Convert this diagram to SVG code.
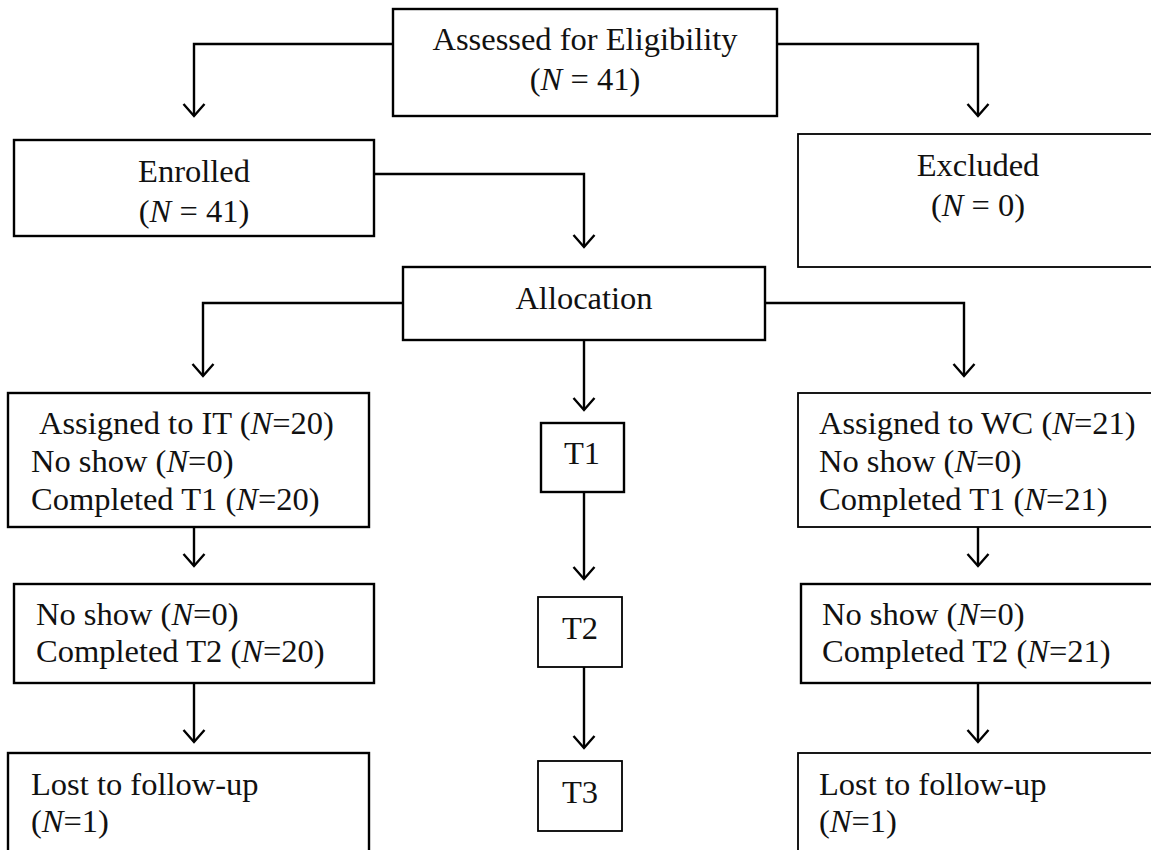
<svg xmlns="http://www.w3.org/2000/svg" width="1151" height="850" viewBox="0 0 1151 850">
<style>
.box{fill:#fff;stroke:#000;stroke-width:2.4}
.thin{fill:#fff;stroke:#000;stroke-width:1.8}
text{font-family:"Liberation Serif","Times New Roman",serif;font-size:32.5px;fill:#111}
.c{text-anchor:middle}
.i{font-style:italic}
.ln{fill:none;stroke:#000;stroke-width:2.4}
</style>
<defs>
<marker id="ah" markerWidth="14" markerHeight="24" refX="12" refY="12" orient="auto" markerUnits="userSpaceOnUse" overflow="visible">
<path d="M0,1.5 L12,12 L0,22.5" fill="none" stroke="#000" stroke-width="2.4"/>
</marker>
</defs>
<rect width="1151" height="850" fill="#fff"/>
<g id="connectors">
<path class="ln" d="M393,44 H194 V116" marker-end="url(#ah)"/>
<path class="ln" d="M777,44 H978 V116" marker-end="url(#ah)"/>
<path class="ln" d="M374,174 H584 V247" marker-end="url(#ah)"/>
<path class="ln" d="M403,303 H203 V376" marker-end="url(#ah)"/>
<path class="ln" d="M765,303 H964 V376" marker-end="url(#ah)"/>
<path class="ln" d="M584,340 V410" marker-end="url(#ah)"/>
<path class="ln" d="M584,492 V579" marker-end="url(#ah)"/>
<path class="ln" d="M584,667 V748" marker-end="url(#ah)"/>
<path class="ln" d="M194,527 V566" marker-end="url(#ah)"/>
<path class="ln" d="M194,683 V742" marker-end="url(#ah)"/>
<path class="ln" d="M978,527 V566" marker-end="url(#ah)"/>
<path class="ln" d="M978,683 V742" marker-end="url(#ah)"/>
</g>
<g id="assessed">
<rect class="box" x="393" y="9" width="384" height="107"/>
<text class="c" x="585" y="50">Assessed for Eligibility</text>
<text class="c" x="585" y="90">(<tspan class="i">N</tspan> = 41)</text>
</g>
<g id="enrolled">
<rect class="box" x="14" y="140" width="360" height="96"/>
<text class="c" x="194" y="182">Enrolled</text>
<text class="c" x="194" y="222">(<tspan class="i">N</tspan> = 41)</text>
</g>
<g id="excluded">
<rect class="thin" x="798" y="134" width="400" height="133"/>
<text class="c" x="978" y="176">Excluded</text>
<text class="c" x="978" y="216">(<tspan class="i">N</tspan> = 0)</text>
</g>
<g id="allocation">
<rect class="box" x="403" y="267" width="362" height="73"/>
<text class="c" x="584" y="309">Allocation</text>
</g>
<g id="t1">
<rect class="box" x="541" y="423" width="83" height="69"/>
<text class="c" x="582" y="464">T1</text>
</g>
<g id="t2">
<rect class="thin" x="538" y="597" width="84" height="70"/>
<text class="c" x="580" y="639">T2</text>
</g>
<g id="t3">
<rect class="thin" x="538" y="761" width="84" height="70"/>
<text class="c" x="580" y="803">T3</text>
</g>
<g id="it">
<rect class="box" x="8" y="393" width="361" height="134"/>
<text x="39" y="434">Assigned to IT (<tspan class="i">N</tspan>=20)</text>
<text x="31" y="472">No show (<tspan class="i">N</tspan>=0)</text>
<text x="31" y="510">Completed T1 (<tspan class="i">N</tspan>=20)</text>
</g>
<g id="it-t2">
<rect class="box" x="14" y="584" width="360" height="99"/>
<text x="36" y="625">No show (<tspan class="i">N</tspan>=0)</text>
<text x="36" y="662">Completed T2 (<tspan class="i">N</tspan>=20)</text>
</g>
<g id="it-lost">
<rect class="box" x="8" y="753" width="361" height="120"/>
<text x="31" y="795">Lost to follow-up</text>
<text x="31" y="832">(<tspan class="i">N</tspan>=1)</text>
</g>
<g id="wc">
<rect class="thin" x="798" y="393" width="400" height="134"/>
<text x="819" y="434">Assigned to WC (<tspan class="i">N</tspan>=21)</text>
<text x="819" y="472">No show (<tspan class="i">N</tspan>=0)</text>
<text x="819" y="510">Completed T1 (<tspan class="i">N</tspan>=21)</text>
</g>
<g id="wc-t2">
<rect class="box" x="801" y="584" width="400" height="99"/>
<text x="822" y="625">No show (<tspan class="i">N</tspan>=0)</text>
<text x="822" y="662">Completed T2 (<tspan class="i">N</tspan>=21)</text>
</g>
<g id="wc-lost">
<rect class="thin" x="798" y="753" width="400" height="120"/>
<text x="819" y="795">Lost to follow-up</text>
<text x="819" y="832">(<tspan class="i">N</tspan>=1)</text>
</g>
</svg>
